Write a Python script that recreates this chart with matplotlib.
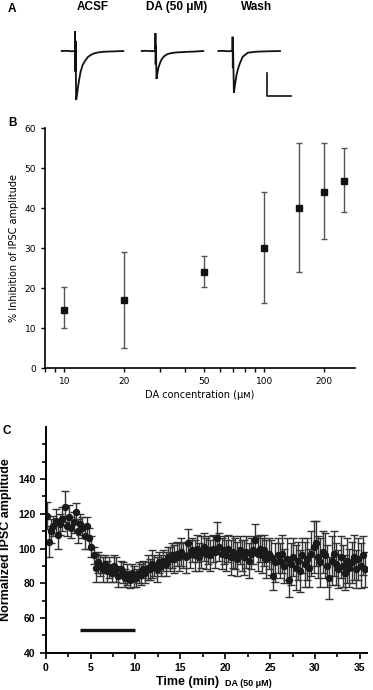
import numpy as np
import matplotlib
matplotlib.use("Agg")
import matplotlib.pyplot as plt
from matplotlib.ticker import FixedLocator, NullFormatter, LogLocator

# ---- panel A: example IPSC traces (time ms, current pA)
acsf_t = [0, 4, 8, 11.2, 11.3, 11.5, 11.7, 12.2, 13, 14, 15, 16, 17.7, 19.5, 21.9, 24.5, 27.5, 31, 35.8, 44, 52]
acsf_i = [0, 2, -2, 0, 176, -180, 90, -431, -380, -300, -238, -180, -123, -90, -55, -35, -20, -12, -6, -3, 0]
da_t = [0, 4, 8, 11.5, 11.6, 11.8, 12.0, 12.5, 13.2, 14.3, 16.4, 19, 22, 26, 30, 37, 44, 52]
da_i = [0, 2, -1, 0, 158, -120, 50, -246, -200, -140, -80, -45, -26, -16, -12, -8, -5, 0]
wash_t = [0, 4, 8, 11.9, 12.0, 12.2, 12.4, 13.1, 14, 15.3, 16.5, 18.1, 20.6, 24.8, 31.8, 40, 52]
wash_i = [0, 1, -2, 0, 126, -150, 40, -367, -300, -211, -160, -109, -50, -15, -6, -3, 0]
trace_names = ["ACSF", "DA (50 \u03bcM)", "Wash"]
trace_offsets = [0, 67.5, 132.2]   # ms, horizontal placement of each trace
scalebar_ms = 20
scalebar_pA = 200

# ---- panel B: dose response
conc = [10, 20, 50, 100, 150, 200, 250]
inhib = [14.7, 17.0, 24.1, 30.2, 40.1, 44.1, 46.9]
inhib_lo = [10.2, 5.2, 20.3, 16.3, 24.0, 32.4, 39.1]
inhib_hi = [20.3, 29.2, 28.1, 44.1, 56.3, 56.3, 55.2]
conc_ticks = [10, 20, 50, 100, 200]

# ---- panel C: time course, one sample every 15 s
t_step = 0.25
amp = [119, 104, 110, 113, 116, 108, 114, 117, 124, 113, 118, 112,
       115, 121, 110, 114, 112, 107, 113, 106, 101, 96, 89, 92,
       90, 88, 91, 87, 89, 86, 90, 88, 84, 88, 86, 83,
       85, 82, 86, 84, 83, 86, 85, 88, 86, 89, 88, 91,
       90, 88, 92, 90, 93, 91, 95, 94, 96, 94, 97, 95,
       98, 96, 95, 103, 97, 99, 96, 100, 95, 98, 101, 97,
       99, 96, 100, 98, 106, 101, 97, 99, 96, 100, 95, 98,
       97, 94, 99, 96, 95, 98, 93, 97, 99, 105, 97, 100,
       96, 99, 94, 97, 95, 84, 92, 96, 93, 97, 90, 94,
       82, 91, 95, 89, 93, 87, 96, 91, 94, 89, 97, 101,
       103, 95, 92, 98, 96, 90, 83, 93, 97, 91, 88, 95,
       90, 86, 93, 89, 92, 95, 88, 94, 90, 96, 88]
amp_err = [8, 9, 7, 6, 7, 8, 6, 7, 9, 6, 7, 6,
           6, 5, 7, 6, 6, 7, 5, 6, 6, 5, 8, 6,
           6, 7, 5, 6, 6, 5, 6, 7, 6, 5, 6, 5,
           6, 5, 5, 6, 5, 6, 6, 5, 6, 7, 6, 8,
           6, 7, 6, 6, 6, 7, 6, 7, 7, 8, 7, 8,
           8, 7, 9, 8, 8, 7, 9, 8, 8, 9, 8, 9,
           8, 9, 8, 9, 9, 8, 9, 8, 9, 8, 10, 9,
           9, 10, 8, 9, 10, 9, 10, 9, 8, 9, 10, 8,
           10, 9, 11, 9, 10, 8, 11, 10, 10, 11, 10, 12,
           10, 12, 11, 13, 11, 12, 10, 13, 12, 11, 13, 15,
           13, 12, 14, 12, 13, 12, 12, 14, 13, 12, 11, 12,
           12, 10, 13, 11, 12, 13, 11, 12, 13, 11, 10]
bar_start, bar_end, bar_level = 3.8, 9.9, 53

W, H = 373, 690
fig = plt.figure(figsize=(W / 100, H / 100), dpi=100)
bold = dict(family="Liberation Sans", fontweight="bold")

def box(x0, x1, y0, y1):
    # pixel box -> figure fraction rect
    return [x0 / W, 1 - y1 / H, (x1 - x0) / W, (y1 - y0) / H]

# ================= A
axA = fig.add_axes(box(40, 330, 25, 110))
axA.set_xlim(-18.3, 226.4)
axA.set_ylim(-519, 229)
axA.axis("off")
for tt, ii, off in zip([acsf_t, da_t, wash_t], [acsf_i, da_i, wash_i], trace_offsets):
    axA.plot(np.array(tt) + off, ii, color="#111111", lw=1.3, solid_joinstyle="miter")
sb_x, sb_y = 173.5, -396
axA.plot([sb_x, sb_x, sb_x + scalebar_ms], [sb_y + scalebar_pA, sb_y, sb_y], color="#111111", lw=1.2)
for name, xp in zip(trace_names, [92.7, 176.7, 256.7]):
    fig.text(xp / W, 1 - 7 / H, name, ha="center", va="center", fontsize=8.5, **bold)
fig.text(11.7 / W, 1 - 9 / H, "A", ha="center", va="center", fontsize=8.5, **bold)

# ================= B
axB = fig.add_axes(box(45, 355, 128.3, 368.3))
yerr = [np.array(inhib) - np.array(inhib_lo), np.array(inhib_hi) - np.array(inhib)]
axB.errorbar(conc, inhib, yerr=yerr, fmt="s", color="#111111", ms=5,
             ecolor="#555555", elinewidth=1, capsize=2.5, capthick=1)
axB.set_xscale("log")
axB.set_xlim(8, 285)
axB.set_ylim(0, 60)
axB.xaxis.set_major_locator(FixedLocator(conc_ticks))
axB.set_xticklabels([str(c) for c in conc_ticks])
axB.xaxis.set_minor_locator(LogLocator(base=10, subs=np.arange(2, 10)))
axB.xaxis.set_minor_formatter(NullFormatter())
axB.set_yticks(range(0, 61, 10))
for s in ["top", "right"]:
    axB.spines[s].set_visible(False)
for s in ["left", "bottom"]:
    axB.spines[s].set_linewidth(1.2)
axB.tick_params(which="both", length=3, width=1, labelsize=6.5)
axB.set_ylabel("% Inhibition of IPSC amplitude", fontsize=7, labelpad=4)
axB.set_xlabel("DA concentration (\u03bc\u1d0d)", fontsize=7, labelpad=3)
fig.text(12.3 / W, 1 - 123 / H, "B", ha="center", va="center", fontsize=8.5, **bold)

# ================= C
axC = fig.add_axes(box(45.7, 367, 427, 652.7))
t = np.arange(len(amp)) * t_step + 0.1
axC.errorbar(t, amp, yerr=amp_err, fmt="o", color="#1a1a1a", ms=4.3,
             ecolor="#333333", elinewidth=1, capsize=2.8, capthick=1)
axC.plot([bar_start, bar_end], [bar_level, bar_level], color="#111111", lw=2.4, solid_capstyle="butt")
axC.set_xlim(0, 35.8)
axC.set_ylim(40, 170)
axC.xaxis.set_major_locator(FixedLocator(range(0, 36, 5)))
axC.xaxis.set_minor_locator(FixedLocator(np.arange(2.5, 36, 5)))
axC.yaxis.set_major_locator(FixedLocator(range(40, 141, 20)))
axC.yaxis.set_minor_locator(FixedLocator([50, 70, 90, 110, 130, 150, 160]))
for s in ["top", "right"]:
    axC.spines[s].set_visible(False)
for s in ["left", "bottom"]:
    axC.spines[s].set_linewidth(1.4)
axC.tick_params(which="major", length=4, width=1.2, labelsize=7.5)
axC.tick_params(which="minor", length=3, width=1.2)
for lab in axC.get_xticklabels() + axC.get_yticklabels():
    lab.set_fontfamily("Liberation Sans")
    lab.set_fontweight("bold")
axC.set_ylabel("Normalized IPSC amplitude", fontsize=9, labelpad=4, **bold)
fig.text(188 / W, 1 - 682 / H, "Time (min)", ha="center", va="center", fontsize=9, **bold)
fig.text(248 / W, 1 - 683 / H, "DA (50 \u03bcM)", ha="center", va="center", fontsize=6.5, **bold)
fig.text(7 / W, 1 - 431 / H, "C", ha="center", va="center", fontsize=8.5, **bold)

fig.savefig("out.png", dpi=100)
